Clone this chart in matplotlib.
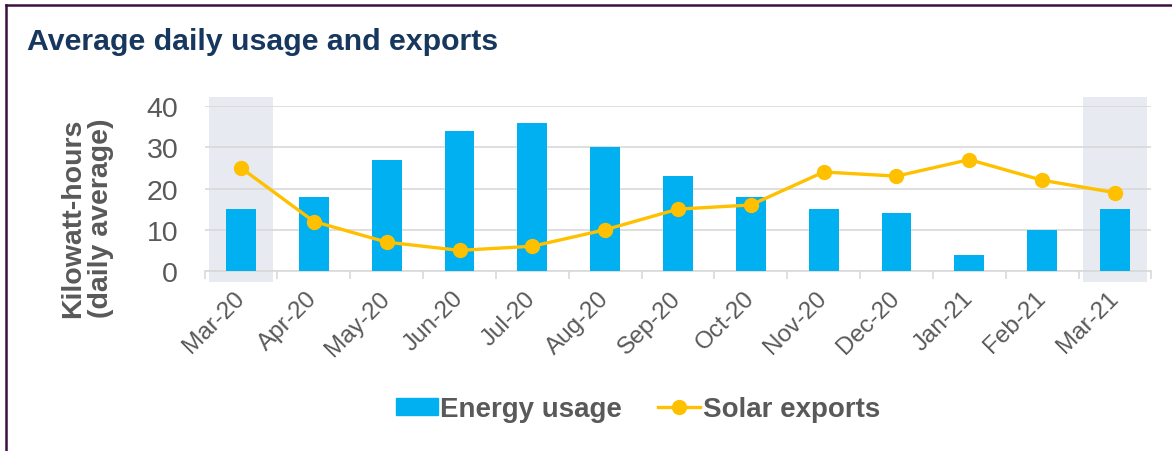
import matplotlib.pyplot as plt
from matplotlib.lines import Line2D
from matplotlib.patches import Patch

months = ["Mar-20", "Apr-20", "May-20", "Jun-20", "Jul-20", "Aug-20", "Sep-20",
          "Oct-20", "Nov-20", "Dec-20", "Jan-21", "Feb-21", "Mar-21"]
energy_usage = [15, 18, 27, 34, 36, 30, 23, 18, 15, 14, 4, 10, 15]
solar_exports = [25, 12, 7, 5, 6, 10, 15, 16, 24, 23, 27, 22, 19]
y_ticks = [0, 10, 20, 30, 40]

plt.rcParams['font.family'] = ['Liberation Sans', 'DejaVu Sans']
grey = '#595959'
blue = '#00B0F0'
gold = '#FFC000'

W, H = 1172, 452
fig = plt.figure(figsize=(W / 100, H / 100), dpi=100)
ax = fig.add_axes([204.6 / W, (H - 272) / H, 946.8 / W, 165 / H])

x = list(range(len(months)))

# shaded first and last months
for i in (0, len(months) - 1):
    ax.axvspan(i - 0.44, i + 0.44, ymin=-0.065, ymax=1.055, color='#E8EAF1',
               lw=0, clip_on=False, zorder=0)

ax.bar(x, energy_usage, width=0.41, color=blue, zorder=3)
ax.plot(x, solar_exports, color=gold, lw=2.4, marker='o', ms=10, zorder=4)

ax.set_xlim(-0.5, len(months) - 0.5)
ax.set_ylim(0, 40)
ax.set_yticks(y_ticks)
ax.grid(axis='y', color='#D9D9D9', lw=1.2, zorder=1)
for s in ['top', 'right', 'left']:
    ax.spines[s].set_visible(False)
ax.spines['bottom'].set_color('#D9D9D9')
ax.spines['bottom'].set_linewidth(1.2)
ax.spines['bottom'].set_zorder(2)

ax.tick_params(axis='y', length=0, pad=19, labelsize=20.5, labelcolor=grey)
ax.set_xticks(x)
ax.set_xticklabels(months, rotation=45, ha='right', va='center',
                   rotation_mode='anchor', fontsize=17.5, color=grey)
ax.tick_params(axis='x', which='major', length=0, pad=17)
ax.set_xticks([i - 0.5 for i in range(len(months) + 1)], minor=True)
ax.tick_params(axis='x', which='minor', length=6, color='#D9D9D9', width=1.2)

fig.text(87 / W, 1 - 218 / H, "Kilowatt-hours\n(daily average)", rotation=90,
         ha='center', va='center', multialignment='center', fontsize=20.5,
         fontweight='bold', color=grey, linespacing=1.1)

fig.text(27 / W, 1 - 42 / H, "Average daily usage and exports", ha='left',
         va='center', fontsize=21.8, fontweight='bold', color='#17375E')

handles = [Patch(color=blue, label='Energy usage'),
           Line2D([0], [0], color=gold, lw=2.4, marker='o', ms=10,
                  label='Solar exports')]
leg = fig.legend(handles=handles, loc='center', bbox_to_anchor=(638 / W, 1 - 410 / H),
                 ncol=2, frameon=False, handlelength=1.5, handleheight=0.55,
                 handletextpad=0.1, columnspacing=1.3,
                 prop={'size': 20, 'weight': 'bold'})
for t in leg.get_texts():
    t.set_color(grey)

# border lines (top and left)
fig.add_artist(Line2D([6 / W, 1], [1 - 6 / H, 1 - 6 / H], color='#3D1040', lw=1.8))
fig.add_artist(Line2D([6 / W, 6 / W], [0, 1 - 6 / H], color='#3D1040', lw=1.8))

fig.savefig('out.png', dpi=100)
